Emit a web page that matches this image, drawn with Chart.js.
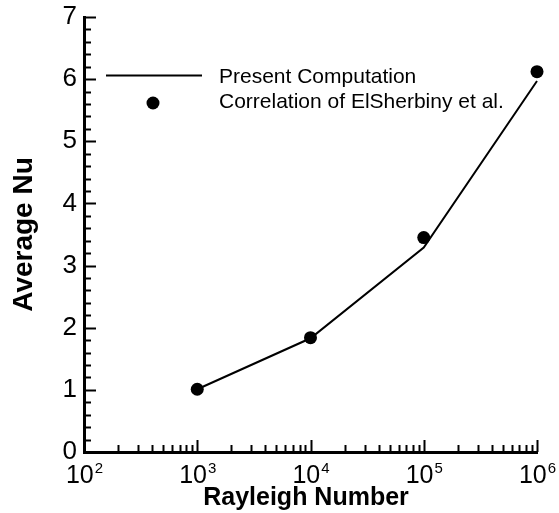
<!DOCTYPE html>
<html>
<head>
<meta charset="utf-8">
<script src="https://cdn.jsdelivr.net/npm/chart.js@4/dist/chart.umd.min.js"></script>
<style>
  html, body { margin: 0; padding: 0; background: #fff; }
  #wrap { width: 559px; height: 513px; }
</style>
</head>
<body>
<div id="wrap"><canvas id="myChart" width="559" height="513"></canvas></div>
<script>
// Rayleigh numbers of the runs
const rayleigh = [1e3, 1e4, 1e5, 1e6];
// average Nusselt number, present computation
const nuPresent = [1.01, 1.83, 3.29, 5.97];
// average Nusselt number, ElSherbiny et al. correlation
const nuCorrelation = [1.01, 1.84, 3.45, 6.12];

// axis ticks
const xExponents = [2, 3, 4, 5, 6];
const yTicks = [0, 1, 2, 3, 4, 5, 6, 7];

const FONT = "'Liberation Sans', Arial, sans-serif";

// inward ticks, powers-of-ten labels, axis titles and legend
const decorations = {
  id: 'decorations',
  afterDraw(chart) {
    const c = chart.ctx;
    const xs = chart.scales.x;
    const ys = chart.scales.y;
    const area = chart.chartArea;
    c.save();
    c.strokeStyle = '#000';
    c.fillStyle = '#000';
    c.lineWidth = 2;

    // y ticks (major every 1, minor every 0.2)
    for (var i = 0; i <= 35; i++) {
      var v = i / 5;
      var py = Math.round(ys.getPixelForValue(v)) + 0.5;
      var len = (i % 5 === 0) ? 12 : 7;
      c.beginPath();
      c.moveTo(area.left, py);
      c.lineTo(area.left + len, py);
      c.stroke();
    }

    // x ticks (decades major, 2..9 minor)
    for (var e = 0; e < xExponents.length; e++) {
      var dec = Math.pow(10, xExponents[e]);
      for (var m = 1; m <= 9; m++) {
        if (e === xExponents.length - 1 && m > 1) break;
        var px = Math.round(xs.getPixelForValue(dec * m)) + 0.5;
        var tl = (m === 1) ? 12 : 7;
        c.beginPath();
        c.moveTo(px, area.bottom);
        c.lineTo(px, area.bottom - tl);
        c.stroke();
      }
    }

    // x tick labels: 10 with superscript exponent
    c.textBaseline = 'alphabetic';
    for (var k = 0; k < xExponents.length; k++) {
      var x0 = xs.getPixelForValue(Math.pow(10, xExponents[k]));
      c.font = '25px ' + FONT;
      var wBase = c.measureText('10').width;
      c.font = '15px ' + FONT;
      var wExp = c.measureText(String(xExponents[k])).width;
      var left = x0 - (wBase + wExp) / 2;
      c.font = '25px ' + FONT;
      c.textAlign = 'left';
      c.fillText('10', left, area.bottom + 31);
      c.font = '15px ' + FONT;
      c.fillText(String(xExponents[k]), left + wBase + 1, area.bottom + 21);
    }

    // axis titles
    c.textAlign = 'center';
    c.textBaseline = 'alphabetic';
    c.font = 'bold 25px ' + FONT;
    c.fillText('Rayleigh Number', 306, 505);
    c.save();
    c.translate(32, (area.top + area.bottom) / 2);
    c.rotate(-Math.PI / 2);
    c.font = 'bold 28px ' + FONT;
    c.fillText('Average Nu', 0, 0);
    c.restore();

    // legend
    var ds = chart.data.datasets;
    c.font = '21px ' + FONT;
    c.textAlign = 'left';
    c.textBaseline = 'alphabetic';
    c.lineWidth = 2;
    c.beginPath();
    c.moveTo(106, 75.5);
    c.lineTo(202, 75.5);
    c.stroke();
    c.fillText(ds[0].label, 219, 83);
    c.beginPath();
    c.arc(153, 103, 6.5, 0, Math.PI * 2);
    c.fill();
    c.fillText(ds[1].label, 219, 108);

    c.restore();
  }
};

window.addEventListener('load', () => {
  const ctx = document.getElementById('myChart');

  const myChart = new Chart(ctx, {
    type: 'scatter',
    data: {
      datasets: [
        {
          label: 'Present Computation',
          data: rayleigh.map((r, i) => ({ x: r, y: nuPresent[i] })),
          showLine: true,
          borderColor: '#000',
          borderWidth: 2,
          pointRadius: 0,
          fill: false,
          clip: false,
        },
        {
          label: 'Correlation of ElSherbiny et al.',
          data: rayleigh.map((r, i) => ({ x: r, y: nuCorrelation[i] })),
          showLine: false,
          backgroundColor: '#000',
          borderColor: '#000',
          pointRadius: 6.5,
          pointBorderWidth: 0,
          clip: false,
        },
      ],
    },
    options: {
      responsive: false,
      animation: false,
      layout: { padding: { top: 17, right: 22, left: 0, bottom: 0 } },
      plugins: {
        legend: { display: false },
        tooltip: { enabled: false },
      },
      scales: {
        x: {
          type: 'logarithmic',
          min: 100,
          max: 1e6,
          grid: { display: false, drawTicks: false },
          border: { display: true, color: '#000', width: 3 },
          ticks: { display: false },
          afterFit: (scale) => {
            scale.height = 61;
            scale.paddingLeft = 0;
            scale.paddingRight = 0;
          },
        },
        y: {
          min: 0,
          max: 7,
          grid: { display: false, drawTicks: false },
          border: { display: true, color: '#000', width: 3 },
          afterBuildTicks: (scale) => { scale.ticks = yTicks.map(v => ({ value: v })); },
          ticks: {
            color: '#000',
            font: { family: FONT, size: 26 },
            padding: 7,
          },
          afterFit: (scale) => {
            scale.width = 84;
            scale.paddingTop = 0;
            scale.paddingBottom = 0;
          },
        },
      },
    },
    plugins: [decorations],
  });
});
</script>
</body>
</html>
